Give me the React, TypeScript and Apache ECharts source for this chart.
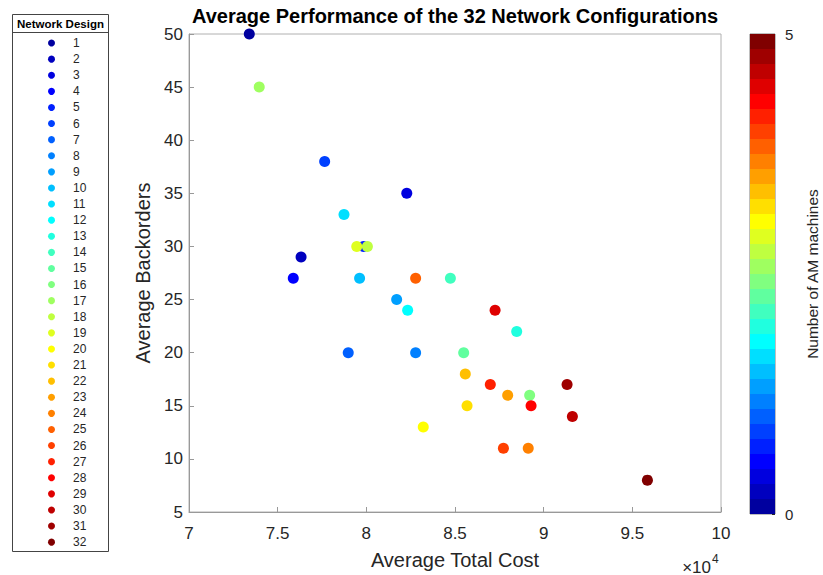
import React, { useEffect, useRef } from "react";
import * as echarts from "echarts";

const designs = ["1","2","3","4","5","6","7","8","9","10","11","12","13","14","15","16","17","18","19","20","21","22","23","24","25","26","27","28","29","30","31","32"];
const totalCost = [73400, 76320, 82280, 75880, 79840, 77650, 78980, 82780, 81710, 79620, 78740, 82330, 88480, 84740, 85490, 89210, 73960, 80060, 79460, 83210, 85680, 85580, 87970, 89130, 82780, 87730, 86990, 89290, 87260, 91620, 91320, 95850];
const backorders = [50, 29, 35, 27, 30, 38, 20, 20, 25, 27, 33, 24, 22, 27, 20, 16, 45, 30, 30, 13, 15, 18, 16, 11, 27, 11, 17, 15, 24, 14, 17, 8];
const jetColors = ["#00009f","#0000bf","#0000df","#0000ff","#0020ff","#0040ff","#0060ff","#0080ff","#009fff","#00bfff","#00dfff","#00ffff","#20ffdf","#40ffbf","#60ff9f","#80ff80","#9fff60","#bfff40","#dfff20","#ffff00","#ffdf00","#ffbf00","#ff9f00","#ff8000","#ff6000","#ff4000","#ff2000","#ff0000","#df0000","#bf0000","#9f0000","#800000"];
const xTicks = { min: 70000, max: 100000, interval: 5000 };
const yTicks = { min: 5, max: 50, interval: 5 };
const cbRange = { min: 0, max: 5 };

const FONT = "'Liberation Sans', Arial, Helvetica, sans-serif";

export default function App() {
  const ref = useRef<HTMLDivElement>(null);
  useEffect(() => {
    if (!ref.current) return;
    const chart = echarts.init(ref.current, null, { renderer: "svg" });
    const scatterSeries = designs.map((d, i) => ({
      type: "scatter",
      name: d,
      xAxisIndex: 0,
      yAxisIndex: 0,
      symbolSize: 11,
      itemStyle: { color: jetColors[i], opacity: 1 },
      data: [[totalCost[i], backorders[i]]],
    }));
    const stripeSeries = jetColors.map((c, i) => ({
      type: "bar",
      name: "cb" + i,
      xAxisIndex: 1,
      yAxisIndex: 1,
      stack: "cb",
      barWidth: "100%",
      itemStyle: { color: c },
      data: [(cbRange.max - cbRange.min) / jetColors.length],
      silent: true,
    }));
    chart.setOption({
      animation: false,
      textStyle: { fontFamily: FONT },
      grid: [
        { left: 189, top: 34, width: 532, height: 480, show: true, borderColor: "#b0b0b0", borderWidth: 1 },
        { left: 750, top: 34, width: 25, height: 480, show: true, borderColor: "#262626", borderWidth: 0.6 },
      ],
      xAxis: [
        {
          type: "value",
          gridIndex: 0,
          min: xTicks.min,
          max: xTicks.max,
          interval: xTicks.interval,
          axisLine: { show: true, lineStyle: { color: "#999" } },
          axisTick: { show: true, inside: true, length: 5, lineStyle: { color: "#999" } },
          axisLabel: { formatter: (v: number) => String(v / 10000), fontSize: 17, color: "#262626", margin: 13, fontFamily: FONT },
          splitLine: { show: false },
          name: "Average Total Cost",
          nameLocation: "middle",
          nameGap: 38,
          nameTextStyle: { fontSize: 20, color: "#262626", fontFamily: FONT },
        },
        {
          type: "category",
          gridIndex: 1,
          data: ["cb"],
          show: false,
        },
      ],
      yAxis: [
        {
          type: "value",
          gridIndex: 0,
          min: yTicks.min,
          max: yTicks.max,
          interval: yTicks.interval,
          axisLine: { show: true, lineStyle: { color: "#999" } },
          axisTick: { show: true, inside: true, length: 5, lineStyle: { color: "#999" } },
          axisLabel: { fontSize: 17, color: "#262626", margin: 6, fontFamily: FONT },
          splitLine: { show: false },
          name: "Average Backorders",
          nameLocation: "middle",
          nameGap: 34,
          nameTextStyle: { fontSize: 20, color: "#262626", fontFamily: FONT },
        },
        {
          type: "value",
          gridIndex: 1,
          position: "right",
          min: cbRange.min,
          max: cbRange.max,
          interval: cbRange.max - cbRange.min,
          axisLine: { show: false },
          axisTick: { show: true, inside: true, length: 3, lineStyle: { color: "#262626" } },
          axisLabel: { fontSize: 15, color: "#262626", margin: 10, fontFamily: FONT },
          splitLine: { show: false },
          name: "Number of AM machines",
          nameLocation: "middle",
          nameRotate: 90,
          nameGap: 29,
          nameTextStyle: { fontSize: 15.5, color: "#262626", fontFamily: FONT },
        },
      ],
      legend: {
        orient: "vertical",
        left: 48,
        top: 35,
        padding: 0,
        itemWidth: 33,
        itemHeight: 7,
        itemGap: 0,
        icon: "circle",
        selectedMode: false,
        data: designs,
        textStyle: { fontSize: 12, lineHeight: 16.1, color: "#262626", fontFamily: FONT },
      },
      graphic: [
        {
          type: "rect",
          shape: { x: 12.5, y: 14.5, width: 96, height: 537 },
          style: { fill: "none", stroke: "#444", lineWidth: 1 },
          silent: true,
        },
        {
          type: "line",
          shape: { x1: 12.5, y1: 32.5, x2: 108.5, y2: 32.5 },
          style: { stroke: "#444", lineWidth: 1 },
          silent: true,
        },
        {
          type: "text",
          x: 60.5,
          y: 23.5,
          style: { text: "Network Design", fontSize: 11.5, fontWeight: "bold", fill: "#000", align: "center", verticalAlign: "middle", fontFamily: FONT },
          silent: true,
        },
        {
          type: "text",
          x: 455,
          y: 16,
          style: { text: "Average Performance of the 32 Network Configurations", fontSize: 20, fontWeight: "bold", fill: "#000", align: "center", verticalAlign: "middle", fontFamily: FONT },
          silent: true,
        },
        {
          type: "text",
          x: 711,
          y: 567,
          style: { text: "×10", fontSize: 17, fill: "#262626", align: "right", verticalAlign: "middle", fontFamily: FONT },
          silent: true,
        },
        {
          type: "text",
          x: 712,
          y: 559,
          style: { text: "4", fontSize: 12, fill: "#262626", align: "left", verticalAlign: "middle", fontFamily: FONT },
          silent: true,
        },
      ],
      series: [...scatterSeries, ...stripeSeries],
    });
    return () => chart.dispose();
  }, []);
  return <div ref={ref} style={{ position: "fixed", left: 0, top: 0, width: 823, height: 575, background: "#fff" }} />;
}
